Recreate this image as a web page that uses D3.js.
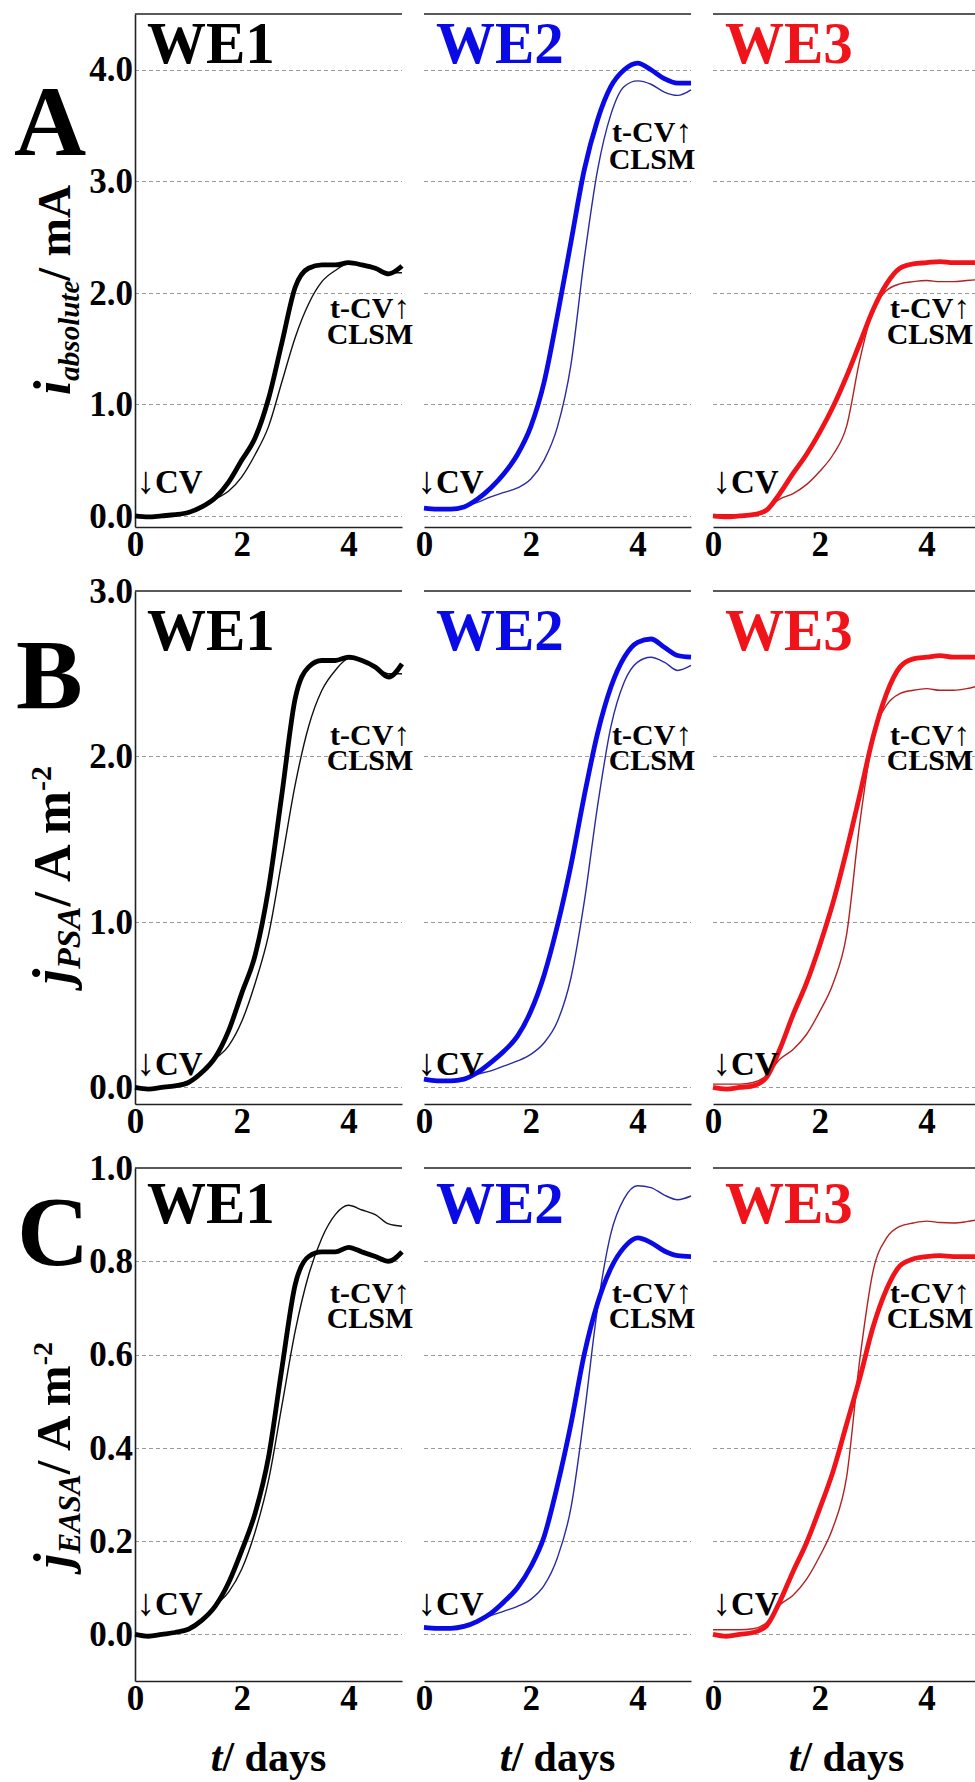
<!DOCTYPE html>
<html>
<head>
<meta charset="utf-8">
<script src="https://cdn.jsdelivr.net/npm/d3@7"></script>
<style>
body { margin: 0; background: #fff; }
svg { display: block; }
text { font-family: "Liberation Serif", "Times New Roman", serif; font-weight: bold; }
</style>
</head>
<body>
<div id="chart"></div>
<script>

// time axis shared by every trace (days)
var days = [0, 0.25, 0.5, 0.75, 1, 1.25, 1.5, 1.75, 2, 2.25, 2.5, 2.75, 3, 3.25, 3.5, 3.75, 4, 4.25, 4.5, 4.75, 5];

// A - absolute current / mA
var aWE1Thick = [0.00, -0.01, 0.00, 0.01, 0.03, 0.08, 0.16, 0.30, 0.50, 0.70, 1.05, 1.55, 2.05, 2.22, 2.25, 2.25, 2.27, 2.25, 2.22, 2.17, 2.24];
var aWE1Thin  = [0.00, -0.01, 0.00, 0.01, 0.03, 0.08, 0.15, 0.22, 0.35, 0.55, 0.80, 1.20, 1.60, 1.90, 2.10, 2.20, 2.26, 2.25, 2.22, 2.18, 2.18];
var aWE2Thick = [0.07, 0.06, 0.06, 0.08, 0.15, 0.25, 0.38, 0.55, 0.80, 1.20, 1.80, 2.45, 3.10, 3.55, 3.85, 4.00, 4.06, 4.00, 3.92, 3.88, 3.88];
var aWE2Thin  = [0.07, 0.06, 0.06, 0.08, 0.12, 0.17, 0.21, 0.25, 0.33, 0.50, 0.80, 1.35, 2.30, 3.10, 3.60, 3.85, 3.90, 3.87, 3.80, 3.77, 3.82];
var aWE3Thick = [0.00, -0.01, 0.00, 0.01, 0.05, 0.20, 0.38, 0.55, 0.75, 0.98, 1.25, 1.55, 1.85, 2.08, 2.22, 2.26, 2.27, 2.28, 2.27, 2.27, 2.27];
var aWE3Thin  = [0.01, 0.01, 0.01, 0.02, 0.06, 0.15, 0.20, 0.28, 0.40, 0.55, 0.80, 1.40, 1.85, 2.02, 2.08, 2.10, 2.11, 2.10, 2.10, 2.11, 2.12];

// B - current density per projected surface area / A m-2
var bWE1Thick = [0.00, -0.01, 0.00, 0.01, 0.03, 0.09, 0.18, 0.34, 0.57, 0.80, 1.20, 1.77, 2.35, 2.54, 2.58, 2.58, 2.60, 2.58, 2.54, 2.48, 2.56];
var bWE1Thin  = [0.00, -0.01, 0.00, 0.01, 0.03, 0.09, 0.17, 0.25, 0.40, 0.63, 0.92, 1.37, 1.83, 2.18, 2.40, 2.52, 2.59, 2.58, 2.54, 2.50, 2.50];
var bWE2Thick = [0.05, 0.04, 0.04, 0.05, 0.09, 0.15, 0.22, 0.31, 0.46, 0.68, 0.98, 1.34, 1.76, 2.14, 2.42, 2.60, 2.69, 2.71, 2.66, 2.61, 2.60];
var bWE2Thin  = [0.05, 0.04, 0.04, 0.05, 0.08, 0.10, 0.13, 0.16, 0.20, 0.27, 0.40, 0.66, 1.12, 1.70, 2.18, 2.45, 2.57, 2.60, 2.57, 2.52, 2.55];
var bWE3Thick = [0.00, -0.01, 0.00, 0.01, 0.06, 0.23, 0.44, 0.63, 0.86, 1.12, 1.43, 1.77, 2.12, 2.38, 2.54, 2.59, 2.60, 2.61, 2.60, 2.60, 2.60];
var bWE3Thin  = [0.02, 0.02, 0.02, 0.03, 0.07, 0.17, 0.23, 0.32, 0.46, 0.63, 0.92, 1.60, 2.12, 2.31, 2.38, 2.40, 2.41, 2.40, 2.40, 2.41, 2.43];

// C - current density per electroactive surface area / A m-2
var cWE1Thick = [0.000, -0.004, 0.000, 0.004, 0.011, 0.030, 0.060, 0.110, 0.180, 0.260, 0.380, 0.570, 0.750, 0.810, 0.820, 0.820, 0.830, 0.820, 0.810, 0.800, 0.820];
var cWE1Thin  = [0.000, -0.004, 0.000, 0.004, 0.012, 0.033, 0.061, 0.090, 0.140, 0.220, 0.330, 0.490, 0.650, 0.770, 0.850, 0.900, 0.920, 0.910, 0.900, 0.880, 0.875];
var cWE2Thick = [0.015, 0.013, 0.013, 0.017, 0.028, 0.045, 0.070, 0.100, 0.145, 0.210, 0.320, 0.450, 0.600, 0.710, 0.785, 0.830, 0.850, 0.840, 0.822, 0.812, 0.810];
var cWE2Thin  = [0.017, 0.015, 0.015, 0.020, 0.028, 0.040, 0.050, 0.060, 0.075, 0.105, 0.165, 0.270, 0.470, 0.700, 0.860, 0.935, 0.962, 0.958, 0.942, 0.932, 0.940];
var cWE3Thick = [0.000, -0.004, 0.000, 0.004, 0.018, 0.070, 0.135, 0.196, 0.270, 0.350, 0.450, 0.550, 0.660, 0.740, 0.790, 0.805, 0.810, 0.812, 0.810, 0.810, 0.810];
var cWE3Thin  = [0.010, 0.010, 0.010, 0.012, 0.025, 0.063, 0.084, 0.118, 0.168, 0.230, 0.336, 0.590, 0.780, 0.850, 0.875, 0.882, 0.886, 0.883, 0.882, 0.885, 0.890];

var electrodes = ["WE1", "WE2", "WE3"];
var thickColors = ["#000000", "#0a0ae6", "#f0141a"];
var thinColors = ["#111111", "#2a2aa6", "#b52020"];

var rowLetters = ["A", "B", "C"];
var yDomainA = [-0.1, 4.5], yTicksA = [0, 1, 2, 3, 4];
var yDomainB = [-0.1, 3.0], yTicksB = [0, 1, 2, 3];
var yDomainC = [-0.1, 1.0], yTicksC = [0, 0.2, 0.4, 0.6, 0.8, 1.0];
var xTicks = [0, 2, 4];

// layout
var width = 975, height = 1782;
var panelLeft = [135, 424, 713], panelWidth = 267, panelHeight = 513;

var rows = [
    {letter: "A", top: 14, letterY: 155, letterX: 14, domain: yDomainA, ticks: yTicksA,
     weY: 49, cvY: 493, tcvY: [318, 142, 318], clsmY: [344, 169, 344],
     title: [["i", 52, "italic", 0], ["absolute", 29, "italic", 9], ["/ mA", 46, "normal", -9]], titleY: 290,
     series: [[aWE1Thin, aWE1Thick], [aWE2Thin, aWE2Thick], [aWE3Thin, aWE3Thick]]},
    {letter: "B", top: 591, letterY: 708, letterX: 16, domain: yDomainB, ticks: yTicksB,
     weY: 59, cvY: 1075, tcvY: [745, 745, 745], clsmY: [770, 770, 770],
     title: [["j", 54, "italic", 0], ["PSA", 34, "italic", 10], ["/ A m", 52, "normal", -10], ["-2", 30, "normal", -19]], titleY: 875,
     series: [[bWE1Thin, bWE1Thick], [bWE2Thin, bWE2Thick], [bWE3Thin, bWE3Thick]]},
    {letter: "C", top: 1168, letterY: 1265, letterX: 17, domain: yDomainC, ticks: yTicksC,
     weY: 55, cvY: 1615, tcvY: [1303, 1303, 1303], clsmY: [1328, 1328, 1328],
     title: [["j", 52, "italic", 0], ["EASA", 31, "italic", 10], ["/ A m", 49, "normal", -10], ["-2", 28, "normal", -18]], titleY: 1455,
     series: [[cWE1Thin, cWE1Thick], [cWE2Thin, cWE2Thick], [cWE3Thin, cWE3Thick]]}
];
var cvOffset = [1, -7, -1];
var tcvCenter = [370, 652, 930];

var svg = d3.select("#chart")
    .append("svg")
    .attr("width", width)
    .attr("height", height);

var x = d3.scaleLinear().domain([0, 5]).range([0, panelWidth]);

rows.forEach(function(row, r) {

    var y = d3.scaleLinear().domain(row.domain).range([panelHeight, 0]);

    // panel letter
    svg.append("text")
        .attr("x", row.letterX)
        .attr("y", row.letterY)
        .attr("font-size", 100)
        .text(row.letter);

    // rotated y title
    var title = svg.append("text")
        .attr("transform", "translate(70," + row.titleY + ") rotate(-90)")
        .attr("text-anchor", "middle");
    row.title.forEach(function(p) {
        title.append("tspan")
            .attr("font-size", p[1])
            .attr("font-style", p[2])
            .attr("dy", p[3])
            .text(p[0]);
    });

    electrodes.forEach(function(we, c) {

        var g = svg.append("g")
            .attr("transform", "translate(" + panelLeft[c] + "," + row.top + ")");

        // dashed grid lines, skipping the one sitting on the top frame
        g.selectAll(".grid")
            .data(row.ticks.filter(function(d) { return d < row.domain[1] - 1e-9; }))
            .enter()
            .append("line")
            .attr("class", "grid")
            .attr("x1", 0)
            .attr("x2", panelWidth)
            .attr("y1", function(d) { return Math.round(y(d)) + 0.5; })
            .attr("y2", function(d) { return Math.round(y(d)) + 0.5; })
            .attr("stroke", "#9a9a9a")
            .attr("stroke-width", 1)
            .attr("stroke-dasharray", "4,3");

        // top frame
        g.append("line")
            .attr("x1", 0).attr("x2", panelWidth)
            .attr("y1", 0).attr("y2", 0)
            .attr("stroke", "#222")
            .attr("stroke-width", 1.6);

        // bottom axis
        var xAxis = g.append("g")
            .attr("transform", "translate(0," + panelHeight + ")")
            .call(d3.axisBottom(x).tickValues(xTicks).tickSize(0).tickPadding(4).tickFormat(d3.format("d")));
        xAxis.select(".domain").attr("stroke", "#222").attr("stroke-width", 1.6);
        xAxis.selectAll("text")
            .attr("font-size", 35)
            .attr("fill", "#000");

        if (c == 0) {
            var yAxis = g.append("g")
                .call(d3.axisLeft(y).tickValues(row.ticks).tickSize(0).tickPadding(2).tickFormat(d3.format(".1f")));
            yAxis.select(".domain").attr("stroke", "#222").attr("stroke-width", 1.6);
            yAxis.selectAll("text")
                .attr("font-size", 35)
                .attr("fill", "#000");
        }

        // traces: thin first, thick on top
        var line = d3.line()
            .x(function(d, i) { return x(days[i]); })
            .y(function(d) { return y(d); })
            .curve(d3.curveMonotoneX);

        g.append("path")
            .datum(row.series[c][0])
            .attr("d", line)
            .attr("fill", "none")
            .attr("stroke", thinColors[c])
            .attr("stroke-width", 1.4);

        g.append("path")
            .datum(row.series[c][1])
            .attr("d", line)
            .attr("fill", "none")
            .attr("stroke", thickColors[c])
            .attr("stroke-width", 4.8)
            .attr("stroke-linejoin", "round");

        // electrode label
        g.append("text")
            .attr("x", 12)
            .attr("y", row.weY)
            .attr("font-size", 59)
            .attr("fill", thickColors[c])
            .text(we);

        // CV markers
        var cv = svg.append("text")
            .attr("x", panelLeft[c] + cvOffset[c])
            .attr("y", row.cvY)
            .attr("font-size", 33);
        cv.append("tspan").attr("font-weight", "normal").attr("font-size", 38).text("\u2193");
        cv.append("tspan").text("CV");

        var tcv = svg.append("text")
            .attr("x", tcvCenter[c])
            .attr("y", row.tcvY[c])
            .attr("font-size", 30)
            .attr("text-anchor", "middle");
        tcv.append("tspan").text("t-CV");
        tcv.append("tspan").attr("font-weight", "normal").attr("font-size", 33).text("\u2191");

        svg.append("text")
            .attr("x", tcvCenter[c])
            .attr("y", row.clsmY[c])
            .attr("font-size", 30)
            .attr("text-anchor", "middle")
            .text("CLSM");

        // time axis title under the last row
        if (r == 2) {
            var xt = svg.append("text")
                .attr("x", panelLeft[c] + panelWidth / 2)
                .attr("y", 1771)
                .attr("font-size", 42)
                .attr("text-anchor", "middle");
            xt.append("tspan").attr("font-style", "italic").text("t");
            xt.append("tspan").text("/ days");
        }
    });
});

</script>
</body>
</html>
